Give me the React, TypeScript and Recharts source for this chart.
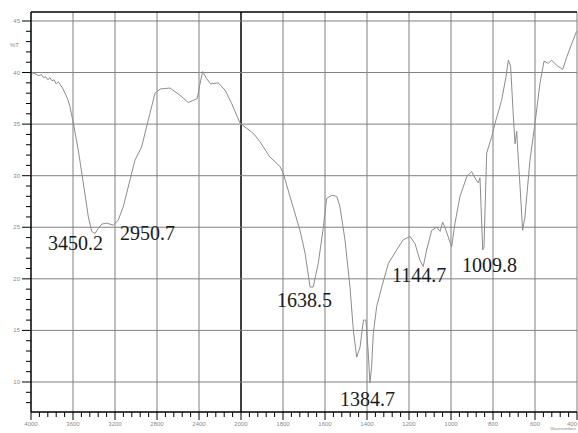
import { LineChart, Line, XAxis, YAxis, ReferenceLine, ReferenceDot } from "recharts";

// FTIR spectrum, wavenumber (cm-1) vs %T
const wavenumbers = [
  4000, 3960, 3930, 3900, 3880, 3860, 3840, 3820, 3800, 3780, 3760, 3740, 3720, 3700, 3676, 3650, 3629, 3597,
  3550, 3502, 3454, 3422, 3390, 3359, 3327, 3279, 3216, 3169, 3121, 3057, 3010, 2946, 2883, 2819, 2771, 2676,
  2581, 2502, 2454, 2416, 2397, 2365, 2327, 2289, 2216, 2152, 2089, 2010, 1941, 1910, 1862, 1814, 1798, 1767,
  1719, 1695, 1671, 1656, 1632, 1608, 1592, 1568, 1544, 1529, 1505, 1481, 1465, 1449, 1433, 1417, 1405, 1394,
  1386, 1378, 1370, 1354, 1330, 1298, 1259, 1227, 1195, 1171, 1148, 1132, 1116, 1092, 1068, 1052, 1040, 1029,
  997, 981, 957, 925, 902, 881, 870, 862, 849, 843, 830, 806, 790, 759, 738, 727, 716, 703, 695, 687, 683, 671,
  659, 648, 624, 600, 576, 557, 536, 521, 497, 468, 449, 425, 402,
];
const transmittance = [
  40.0, 39.9, 39.7, 39.8, 39.5, 39.6, 39.3, 39.5, 39.2, 39.3, 38.9, 39.1, 38.8, 38.5, 38.0, 37.4, 36.7, 35.1,
  32.5, 29.3, 26.0, 24.6, 24.4, 24.9, 25.3, 25.4, 25.2, 25.7, 27.0, 29.6, 31.5, 32.8, 35.4, 38.0, 38.4, 38.5,
  37.8, 37.1, 37.3, 37.5, 38.6, 40.1, 39.4, 38.9, 39.0, 38.3, 37.0, 35.1, 34.1, 33.3, 31.8, 30.9, 30.2, 28.0,
  24.7, 22.5, 19.2, 19.2, 21.5, 25.0, 27.8, 28.1, 28.0, 27.0, 23.8, 19.2, 15.0, 12.4, 13.4, 16.0, 16.0, 12.8,
  9.9, 11.5, 14.7, 17.3, 19.2, 21.5, 22.8, 23.8, 24.1, 23.4, 21.8, 21.2, 22.8, 24.7, 25.0, 24.6, 25.5, 25.0,
  23.1, 25.4, 28.0, 29.9, 30.4, 29.6, 29.3, 29.8, 22.8, 23.1, 32.2, 33.8, 35.1, 37.3, 39.6, 41.2, 40.6, 35.7,
  33.1, 34.3, 32.8, 28.9, 24.7, 26.0, 31.5, 35.1, 39.0, 41.1, 40.9, 41.2, 40.7, 40.3, 41.5, 42.8, 44.0,
];

const xTickLabels = [4000, 3600, 3200, 2800, 2400, 2000, 1800, 1600, 1400, 1200, 1000, 800, 600, 400];
const yTickLabels = [10, 15, 20, 25, 30, 35, 40, 45];

const peakTexts = ["3450.2", "2950.7", "1638.5", "1384.7", "1144.7", "1009.8"];
const peakTextWavenumber = [3838, 3152, 1829, 1529, 1281, 948];
const peakTextT = [22.8, 23.8, 17.3, 7.7, 19.7, 20.7];

const Y_MIN = 7.09;
const Y_MAX = 45.87;

// scale changes at 2000 cm-1 (400 per division above, 200 below)
const pos = (w: number) => (w >= 2000 ? (4000 - w) / 400 : 5 + (2000 - w) / 200);

const data = wavenumbers.map((w, i) => ({ p: pos(w), t: transmittance[i] }));

const xTicks: number[] = [];
for (let i = 0; i <= 65; i++) xTicks.push(i / 5);
const yTicks: number[] = [];
for (let v = 8; v <= 45; v++) yTicks.push(v);

const isWhole = (v: number) => Math.abs(v - Math.round(v)) < 1e-6;

const XTick = ({ x, y, payload }: any) => {
  const v = payload.value;
  const major = isWhole(v);
  const last = Math.round(v) === xTickLabels.length - 1;
  return (
    <g>
      <line x1={x} x2={x} y1={y} y2={y + (major ? 8 : 5)} stroke="#000" strokeWidth={1} />
      {major && (
        <text
          x={x}
          y={y + 14}
          fontSize={6}
          textAnchor={last ? "end" : "middle"}
          fill="#8a8a8a"
          fontFamily="Liberation Sans"
        >
          {xTickLabels[Math.round(v)]}
        </text>
      )}
    </g>
  );
};

const YTick = ({ x, y, payload }: any) => {
  const v = payload.value;
  const major = v % 5 === 0;
  return (
    <g>
      <line x1={x} x2={x - (major ? 9 : 5)} y1={y} y2={y} stroke="#000" strokeWidth={1} />
      {major && (
        <text x={x - 11} y={y + 2} fontSize={6} textAnchor="end" fill="#8a8a8a" fontFamily="Liberation Sans">
          {v}
        </text>
      )}
    </g>
  );
};

const PeakText = (text: string) => (props: any) => (
  <text x={props.cx} y={props.cy} fontSize={20} fill="#1a1a1a" fontFamily="Liberation Serif">
    {text}
  </text>
);

export default function App() {
  return (
    <div style={{ position: "absolute", left: 0, top: 0, width: 578, height: 433, background: "#fff" }}>
      <LineChart width={578} height={433} data={data} margin={{ top: 12, right: 1, bottom: 0, left: 0 }}>
        <XAxis
          type="number"
          dataKey="p"
          domain={[0, 13]}
          ticks={xTicks}
          interval={0}
          tickSize={0}
          tickMargin={0}
          tickLine={false}
          tick={<XTick />}
          height={21}
          axisLine={{ stroke: "#000", strokeWidth: 1.5 }}
          allowDataOverflow
        />
        <YAxis
          type="number"
          domain={[Y_MIN, Y_MAX]}
          ticks={yTicks}
          interval={0}
          tickSize={0}
          tickMargin={0}
          tickLine={false}
          tick={<YTick />}
          width={31}
          axisLine={{ stroke: "#000", strokeWidth: 1.5 }}
          allowDataOverflow
        />
        {xTickLabels.map((_, i) =>
          i === 0 ? null : (
            <ReferenceLine
              key={"vx" + i}
              x={i}
              stroke={i === 5 ? "#000" : "#808080"}
              strokeWidth={i === 5 ? 1.5 : 1}
            />
          )
        )}
        {yTickLabels.map((v) => (
          <ReferenceLine key={"hy" + v} y={v} stroke="#808080" strokeWidth={1} />
        ))}
        <ReferenceLine y={Y_MAX} stroke="#000" strokeWidth={1.5} />
        <Line
          type="linear"
          dataKey="t"
          stroke="#8c8c8c"
          strokeWidth={1}
          dot={false}
          isAnimationActive={false}
        />
        {peakTexts.map((s, i) => (
          <ReferenceDot
            key={s}
            x={pos(peakTextWavenumber[i])}
            y={peakTextT[i]}
            r={0}
            shape={PeakText(s)}
          />
        ))}
      </LineChart>
      <span
        style={{
          position: "absolute",
          left: 10,
          top: 42,
          fontSize: 6,
          color: "#8a8a8a",
          fontFamily: "Liberation Sans",
        }}
      >
        %T
      </span>
      <span
        style={{
          position: "absolute",
          right: 2,
          top: 426,
          fontSize: 4,
          color: "#8a8a8a",
          fontFamily: "Liberation Sans",
          whiteSpace: "nowrap",
        }}
      >
        Wavenumbers
      </span>
    </div>
  );
}
